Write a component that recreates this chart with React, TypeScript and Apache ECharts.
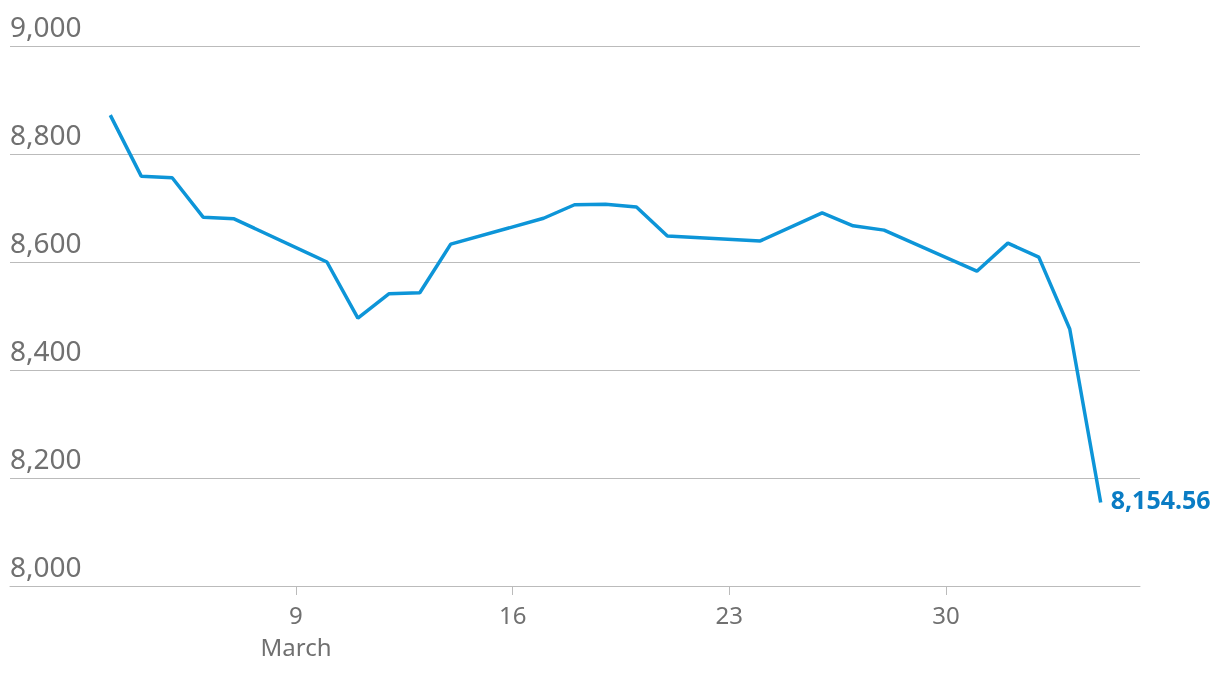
import React, { useEffect, useRef } from "react";
import * as echarts from "echarts";

// Day number counted from 1 March (32 = 1 April)
const days = [3, 4, 5, 6, 7, 10, 11, 12, 13, 14, 17, 18, 19, 20, 21, 24, 26, 27, 28, 31, 32, 33, 34, 35];
const values = [8872, 8759, 8756, 8683, 8680, 8600, 8496, 8541, 8543, 8633, 8681, 8706, 8707, 8702, 8648, 8639, 8691, 8667, 8659, 8583, 8635, 8609, 8476, 8154.56];
const xTicks = [9, 16, 23, 30];
const monthLabel = "March";
const yMin = 8000;
const yMax = 9000;
const yStep = 200;

export default function App() {
  const ref = useRef<HTMLDivElement>(null);
  useEffect(() => {
    if (!ref.current) return;
    const chart = echarts.init(ref.current, null, { renderer: "svg" });
    const font = "'Noto Sans', 'Open Sans', sans-serif";
    const lastVal = values[values.length - 1];
    chart.setOption({
      animation: false,
      grid: { left: 10, right: 80, top: 46, bottom: 90, containLabel: false },
      xAxis: {
        type: "value",
        min: -0.24,
        max: 36.27,
        splitLine: { show: false },
        axisLine: { show: true, lineStyle: { color: "#bbbbbb", width: 1 } },
        axisTick: { show: true, customValues: xTicks, length: 9, lineStyle: { color: "#bbbbbb" } },
        axisLabel: {
          customValues: xTicks,
          color: "#707070",
          fontFamily: font,
          fontSize: 24,
          lineHeight: 32,
          margin: 12,
          formatter: (v: number) => (v === xTicks[0] ? `${v}\n${monthLabel}` : `${v}`),
        },
      },
      yAxis: {
        type: "value",
        min: yMin,
        max: yMax,
        interval: yStep,
        axisLine: { show: false },
        axisTick: { show: false },
        splitLine: { lineStyle: { color: "#bbbbbb", width: 1 } },
        axisLabel: {
          inside: true,
          margin: 0,
          align: "left",
          verticalAlign: "bottom",
          padding: [0, 0, 6, 0],
          color: "#707070",
          fontFamily: font,
          fontSize: 28,
          formatter: (v: number) => v.toLocaleString("en-US"),
        },
      },
      series: [
        {
          type: "line",
          data: days.map((d, i) => [d, values[i]]),
          showSymbol: false,
          symbol: "none",
          lineStyle: { color: "#0d95d8", width: 3.5 },
          endLabel: {
            show: true,
            distance: 10,
            offset: [0, -4],
            formatter: () => lastVal.toLocaleString("en-US", { minimumFractionDigits: 2 }),
            color: "#0a7cc4",
            fontFamily: font,
            fontWeight: "bold",
            fontSize: 25,
          },
        },
      ],
    });
    return () => chart.dispose();
  }, []);
  return <div ref={ref} style={{ position: "fixed", left: 0, top: 0, width: 1220, height: 676 }} />;
}
